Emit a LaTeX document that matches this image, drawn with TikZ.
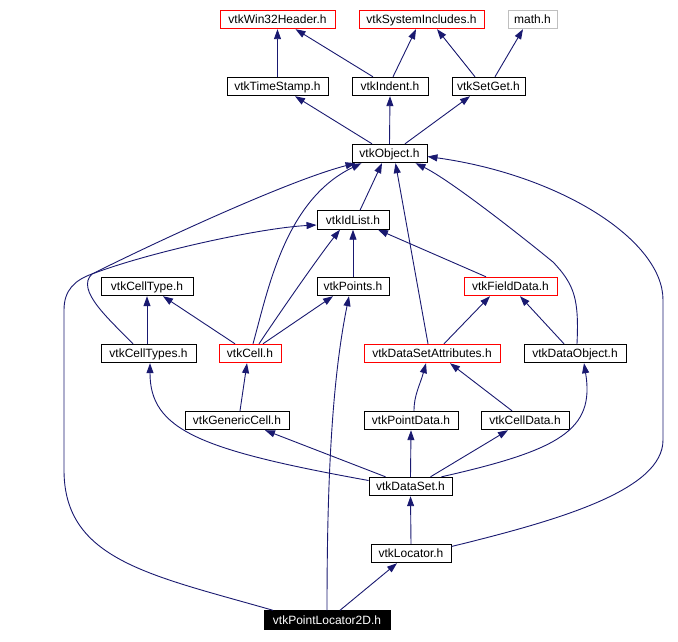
\documentclass[tikz,border=0pt]{standalone}
\usepackage{fontspec}
\setmainfont{Liberation Sans}
\usetikzlibrary{positioning, arrows.meta}
\definecolor{edgeblue}{RGB}{25, 25, 112}
\definecolor{hdrred}{RGB}{255, 0, 0}
\definecolor{hdrgray}{RGB}{191, 191, 191}

\begin{document}
\begin{tikzpicture}[x=1pt, y=-1pt,
                hdr/.style={draw=black, line width=0.9pt, minimum height=18.5pt,
                            inner sep=1pt, text height=10pt, text depth=2pt,
                            font=\fontsize{12}{14}\selectfont},
                redhdr/.style={hdr, draw=hdrred},
                inc/.style={draw=edgeblue, line width=0.9pt,
                            -{Triangle[length=10pt, width=7pt]}}
            ]
            \useasboundingbox (0, 0) rectangle (678, 642);

            % top row: system headers
            \node[redhdr, minimum width=115pt] (w32) at (277.5, 19.5) {vtkWin32Header.h};
            \node[redhdr, minimum width=125pt] (sys) at (421.5, 19.5) {vtkSystemIncludes.h};
            \node[hdr, draw=hdrgray, minimum width=49pt] (math) at (532.5, 19.5) {math.h};

            \node[hdr, minimum width=101pt] (ts) at (277.5, 86.5) {vtkTimeStamp.h};
            \node[hdr, minimum width=76pt] (ind) at (390, 86.5) {vtkIndent.h};
            \node[hdr, minimum width=73pt] (sg) at (488.5, 86.5) {vtkSetGet.h};

            \node[hdr, minimum width=75pt] (obj) at (389.5, 153.5) {vtkObject.h};
            \node[hdr, minimum width=72pt] (idl) at (353, 220) {vtkIdList.h};

            \node[hdr, minimum width=92pt] (ct) at (147, 286.5) {vtkCellType.h};
            \node[hdr, minimum width=72pt] (pts) at (353, 286.5) {vtkPoints.h};
            \node[redhdr, minimum width=93pt] (fd) at (510.5, 286.5) {vtkFieldData.h};

            \node[hdr, minimum width=95pt] (cts) at (148.5, 353.5) {vtkCellTypes.h};
            \node[redhdr, minimum width=62pt] (cell) at (250, 353.5) {vtkCell.h};
            \node[redhdr, minimum width=136pt] (dsa) at (432, 353.5) {vtkDataSetAttributes.h};
            \node[hdr, minimum width=102pt] (dob) at (575, 353.5) {vtkDataObject.h};

            \node[hdr, minimum width=104pt] (gc) at (237, 420.5) {vtkGenericCell.h};
            \node[hdr, minimum width=94pt] (pd) at (411, 420.5) {vtkPointData.h};
            \node[hdr, minimum width=88pt] (cd) at (525, 420.5) {vtkCellData.h};

            \node[hdr, minimum width=83pt] (ds) at (410.5, 486.5) {vtkDataSet.h};
            \node[hdr, minimum width=80pt] (loc) at (411, 553.5) {vtkLocator.h};

            \node[hdr, fill=black, text=white, minimum width=126pt] (pl2d) at (327, 620) {vtkPointLocator2D.h};

            % include edges
            \draw[inc] (ts.north) -- (w32.south);
            \draw[inc] ([xshift=-17pt]ind.north) -- ([xshift=18pt]w32.south);
            \draw[inc] ([xshift=3pt]ind.north) -- ([xshift=-5.5pt]sys.south);
            \draw[inc] ([xshift=-13.5pt]sg.north) -- ([xshift=15.5pt]sys.south);
            \draw[inc] ([xshift=6.5pt]sg.north) -- ([xshift=-9.5pt]math.south);

            \draw[inc] ([xshift=-17.5pt]obj.north) -- ([xshift=17.5pt]ts.south);
            \draw[inc] (obj.north) -- (ind.south);
            \draw[inc] ([xshift=15.5pt]obj.north) -- ([xshift=-18.5pt]sg.south);

            \draw[inc] ([xshift=7pt]idl.north) -- ([xshift=-7.5pt]obj.south);
            \draw[inc] (pts.north) -- (idl.south);

            \draw[inc] ([xshift=3pt]cell.north) .. controls (268, 290) and (285, 200)
                .. ([xshift=-28pt]obj.south);
            \draw[inc] ([xshift=9pt]cell.north) .. controls (285, 305) and (320, 255)
                .. ([xshift=-13pt]idl.south);
            \draw[inc] ([xshift=13pt]cell.north) -- ([xshift=-20pt]pts.south);
            \draw[inc] ([xshift=-15pt]cell.north) -- ([xshift=16pt]ct.south);
            \draw[inc] ([xshift=-1.5pt]cts.north) -- (ct.south);

            \draw[inc] ([xshift=-15.5pt]cts.north) .. controls (110, 320) and (75, 290)
                .. (92, 274) .. controls (160, 240) and (290, 180)
                .. ([xshift=-34pt]obj.south);
            \draw[inc] ([xshift=-54pt]pl2d.north) .. controls (150, 575) and (64, 560)
                .. (64, 470) -- (64, 310) .. controls (64, 290) and (75, 280)
                .. (92, 274) .. controls (150, 252) and (260, 228)
                .. ([yshift=-5pt]idl.west);

            \draw[inc] ([xshift=-4pt]dsa.north) -- ([xshift=6pt]obj.south);
            \draw[inc] ([xshift=12pt]dsa.north) -- ([xshift=-20.5pt]fd.south);
            \draw[inc] ([xshift=-24.5pt]fd.north) -- ([xshift=25pt]idl.south);
            \draw[inc] ([xshift=2pt]dob.north) .. controls (579, 300) and (575, 285)
                .. (553, 262) .. controls (520, 235) and (450, 180)
                .. ([xshift=26pt]obj.south);
            \draw[inc] ([xshift=-11pt]dob.north) -- ([xshift=9.5pt]fd.south);
            \draw[inc] ([yshift=7pt]loc.east) .. controls (560, 520) and (663, 490)
                .. (663, 440) -- (663, 300) .. controls (663, 240) and (560, 175)
                .. ([yshift=-3pt]obj.east);

            \draw[inc] ([xshift=3pt]gc.north) -- ([xshift=-3pt]cell.south);
            \draw[inc] ([xshift=3pt]pd.north) .. controls (414, 395) and (420, 385)
                .. ([xshift=-6pt]dsa.south);
            \draw[inc] ([xshift=-13pt]cd.north) -- ([xshift=18pt]dsa.south);

            \draw[inc] ([xshift=-25pt]ds.north) -- ([xshift=28pt]gc.south);
            \draw[inc] (ds.north) -- (pd.south);
            \draw[inc] ([xshift=20pt]ds.north) -- ([xshift=-17pt]cd.south);
            \draw[inc] ([yshift=6pt]ds.west) .. controls (200, 450) and (150, 430)
                .. ([xshift=1.5pt]cts.south);
            \draw[inc] ([xshift=31pt]ds.north) .. controls (560, 450) and (595, 430)
                .. ([xshift=9pt]dob.south);

            \draw[inc] (loc.north) -- (ds.south);
            \draw[inc] ([xshift=13pt]pl2d.north) -- ([xshift=-14pt]loc.south);
            \draw[inc] (pl2d.north) .. controls (327, 480) and (332, 380)
                .. ([xshift=-4pt]pts.south);

            \end{tikzpicture}
\end{document}
